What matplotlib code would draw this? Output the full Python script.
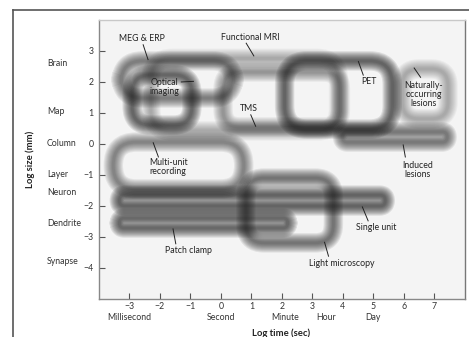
"""Spatial and temporal resolution of methods used to study brain function."""
import matplotlib.pyplot as plt
from matplotlib.lines import Line2D
from matplotlib.patches import FancyBboxPatch
from matplotlib.transforms import blended_transform_factory

plt.rcParams["font.family"] = ["Lato", "DejaVu Sans"]

# extent of each method: log time (sec) and log size (mm)
techniques = ["Functional MRI", "MEG & ERP", "Optical imaging", "TMS", "PET",
              "Naturally-occurring lesions", "Induced lesions",
              "Multi-unit recording", "Single unit", "Patch clamp",
              "Light microscopy"]
time_lo = [-2.3, -3.27, -2.91, 0.07, 2.09, 5.95, 3.99, -3.53, -3.33, -3.33, 0.82]
time_hi = [3.86, 0.42, -0.95, 3.92, 5.62, 7.45, 7.42, 0.75, 5.39, 2.19, 3.69]
size_lo = [0.42, 1.48, 0.61, 0.55, 0.48, 0.81, 0.06, -1.45, -2.0, -2.71, -3.19]
size_hi = [2.76, 2.68, 2.23, 2.32, 2.68, 2.42, 0.39, 0.06, -1.65, -2.39, -1.10]

# named size / time scales
size_names = ["Brain", "Map", "Column", "Layer", "Neuron", "Dendrite", "Synapse"]
size_name_pos = [2.6, 1.05, 0.0, -1.0, -1.55, -2.55, -3.8]
time_names = ["Millisecond", "Second", "Minute", "Hour", "Day"]
time_name_pos = [-3, 0, 2.1, 3.45, 5.0]

# styling per method (strength of grey, corner radius)
shade = [0.042, 0.08, 0.105, 0.06, 0.11, 0.045, 0.085, 0.075, 0.11, 0.1, 0.09]
corner = [0.7, 0.7, 0.6, 0.55, 0.75, 0.55, 0.165, 0.75, 0.175, 0.16, 0.6]

# label text position and pointer end
labels = [
    ("Functional MRI", (0.98, 3.45), (1.08, 2.84)),
    ("MEG & ERP", (-2.58, 3.39), (-2.39, 2.72)),
    ("Optical\nimaging", (-1.86, 1.84), None),
    ("TMS", (0.92, 1.13), (1.14, 0.57)),
    ("PET", (4.84, 2.0), (4.51, 2.66)),
    ("Naturally-\noccurring\nlesions", (6.65, 1.58), (6.34, 2.45)),
    ("Induced\nlesions", (6.45, -0.84), (5.98, -0.03)),
    ("Multi-unit\nrecording", (-1.73, -0.74), (-2.22, 0.04)),
    ("Single unit", (5.1, -2.68), (4.64, -2.03)),
    ("Patch clamp", (-1.05, -3.45), (-1.57, -2.74)),
    ("Light microscopy", (3.95, -3.84), (3.4, -3.17)),
]


def fuzzy_ring(ax, x0, x1, y0, y1, r, a):
    # stack soft strokes to mimic a blurred outline
    for lw in [14, 12.5, 11, 9.5, 8, 6.5, 5, 3.5, 2]:
        p = FancyBboxPatch((x0, y0), x1 - x0, y1 - y0,
                           boxstyle=f"round,pad=0,rounding_size={r}",
                           fill=False, ec="#1a1a1a", lw=lw, alpha=a,
                           joinstyle="round", capstyle="round")
        ax.add_patch(p)


def main():
    fig = plt.figure(figsize=(4.69, 3.37), dpi=100)
    ax = fig.add_axes([0.211, 0.1128, 0.78, 0.828])
    ax.set_facecolor("#f4f4f4")
    ax.set_xlim(-4, 8)
    ax.set_ylim(-5, 4)

    for i in range(len(techniques)):
        fuzzy_ring(ax, time_lo[i], time_hi[i], size_lo[i], size_hi[i],
                   corner[i], shade[i])

    for text, xy, tip in labels:
        ax.text(xy[0], xy[1], text, fontsize=6.3, ha="center", va="center",
                color="#222222", linespacing=1.0)
    # pointer lines
    ptr = {"Functional MRI": (0.83, 3.25), "MEG & ERP": (-2.55, 3.2),
           "TMS": (0.98, 0.94), "PET": (4.67, 2.22),
           "Naturally-occurring lesions": (6.55, 2.15),
           "Induced lesions": (6.05, -0.42), "Multi-unit recording": (-2.05, -0.42),
           "Single unit": (4.83, -2.48), "Patch clamp": (-1.48, -3.22),
           "Light microscopy": (3.53, -3.62)}
    for (text, xy, tip), name in zip(labels, techniques):
        if tip is None:
            continue
        s = ptr[name]
        ax.add_line(Line2D([s[0], tip[0]], [s[1], tip[1]], color="#222222", lw=0.7))
    ax.add_line(Line2D([-1.3, -0.9], [2.0, 2.02], color="#222222", lw=0.7))

    ax.set_xticks(range(-3, 8))
    ax.set_yticks(range(-4, 4))
    ax.tick_params(direction="in", length=4, width=0.8, color="#555555",
                   labelsize=6.3, labelcolor="#333333", pad=2.5)
    ax.tick_params(axis="y", pad=4)
    for side in ["left", "bottom"]:
        ax.spines[side].set_color("#888888")
    ax.spines["top"].set_color("#c8c8c8")
    ax.spines["right"].set_color("#777777")
    for s in ax.spines.values():
        s.set_linewidth(1.0)

    trans_y = blended_transform_factory(fig.transFigure, ax.transData)
    for name, y in zip(size_names, size_name_pos):
        ax.text(0.1, y, name, transform=trans_y, fontsize=6.3, ha="left",
                va="center", color="#333333")
    trans_x = blended_transform_factory(ax.transData, fig.transFigure)
    for name, x in zip(time_names, time_name_pos):
        ax.text(x, 0.059, name, transform=trans_x, fontsize=6.3, ha="center",
                va="center", color="#333333")

    fig.text(0.6, 0.012, "Log time (sec)", fontsize=6.8, fontweight="bold",
             ha="center", va="center", color="#222222")
    fig.text(0.064, 0.526, "Log size (mm)", fontsize=6.8, fontweight="bold",
             rotation=90, ha="center", va="center", color="#222222")

    # outer frame of the figure panel
    fig.add_artist(Line2D([0.028, 1.0], [0.969, 0.969], color="#555555", lw=1.2,
                          transform=fig.transFigure))
    fig.add_artist(Line2D([0.028, 0.028], [0.0, 0.969], color="#555555", lw=1.2,
                          transform=fig.transFigure))

    fig.savefig("out.png", dpi=100)


if __name__ == "__main__":
    main()
